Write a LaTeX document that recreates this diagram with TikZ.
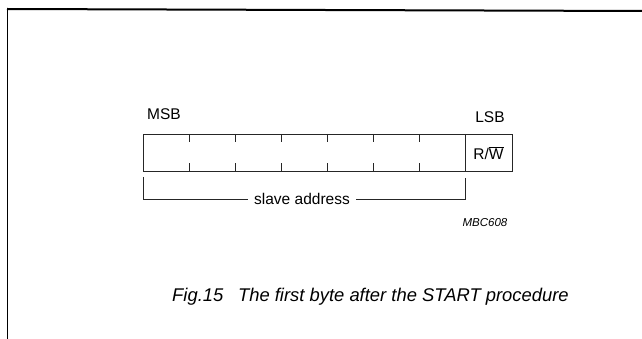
\documentclass[tikz,border=0pt]{standalone}
\usepackage{fontspec}
\setmainfont{Liberation Sans}
\begin{document}
\begin{tikzpicture}[x=1pt,y=-1pt,
  ln/.style={line width=0.9pt,black!85},
  lbl/.style={inner sep=0pt,font=\fontsize{15.5}{18}\selectfont},
  tick/.style={line width=0.8pt,black!85}]
\useasboundingbox (0,0) rectangle (642,339);
% frame
\draw[line width=2pt] (7,9) -- (642,11);
\draw[line width=1pt] (7.5,9) -- (7.5,339);
% byte box
\coordinate (bl) at (143,134);
\coordinate (br) at (512,171);
\draw[ln] (bl) rectangle (br);
\draw[ln] (465,134) -- (465,171);
\foreach \i in {1,...,6}{
  \draw[tick] ({143+46.1*\i},134) -- ++(0,8);
  \draw[tick] ({143+46.1*\i},171) -- ++(0,-8);
}
\node[lbl,anchor=west] (msb) at (147,114) {MSB};
\node[lbl] (lsb) at (490,117) {LSB};
\node[lbl] (rw) at (488.5,153) {R/$\overline{\hbox{W}}$};
% bracket
\node[lbl] (sa) at (302,199) {slave address};
\coordinate (a1) at (143,177);
\coordinate (a2) at (143,199);
\coordinate (b1) at (465,178);
\coordinate (b2) at (465,199);
\draw[ln] (a1) -- (a2) -- ([xshift=-6pt]sa.west |- a2);
\draw[ln] (b1) -- (b2) -- ([xshift=6pt]sa.east |- b2);
\node[inner sep=0pt,font=\fontsize{11.5}{13}\selectfont\itshape] (code) at (485,223) {MBC608};
\node[inner sep=0pt,font=\fontsize{18.4}{21}\selectfont\itshape,anchor=west] (cap) at (172,297) {Fig.15\hspace{0.8em}The first byte after the START procedure};
\end{tikzpicture}
\end{document}
